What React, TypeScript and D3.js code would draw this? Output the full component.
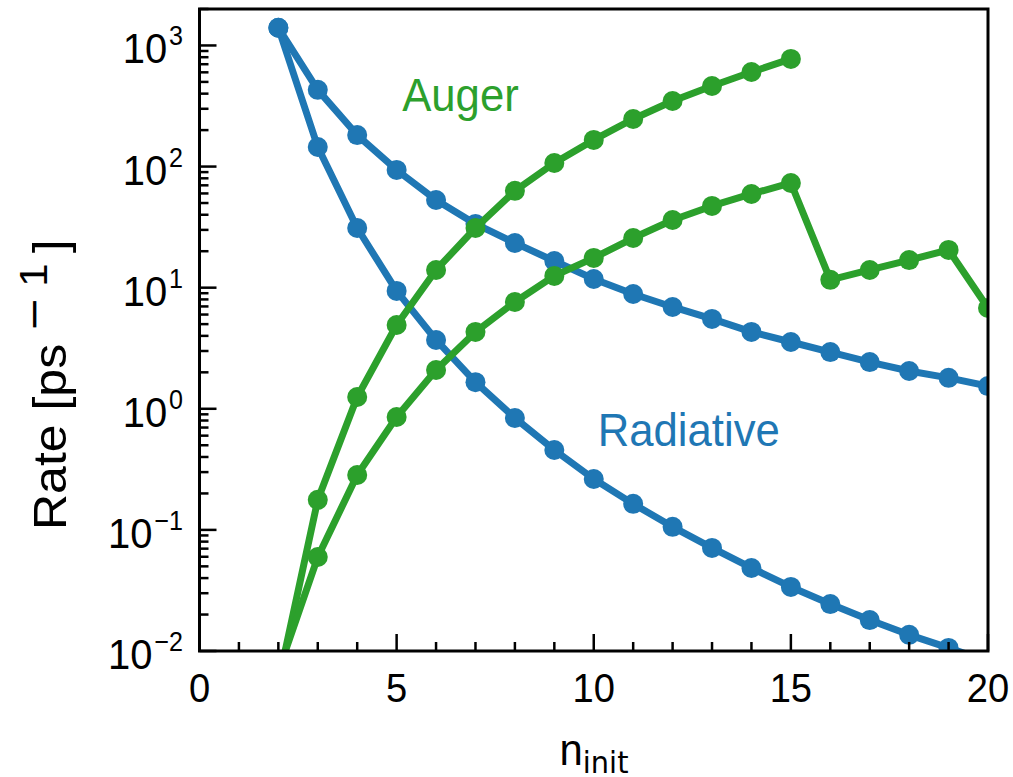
import React from "react";
import * as d3 from "d3";

const nInit = [2, 3, 4, 5, 6, 7, 8, 9, 10, 11, 12, 13, 14, 15, 16, 17, 18, 19, 20];
const radiativeA = [1400, 430, 182, 93.8, 53, 33.6, 23.4, 16.6, 11.8, 8.87, 6.93, 5.52, 4.31, 3.56, 2.94, 2.43, 2.05, 1.8, 1.54];
const radiativeB = [1400, 145, 31.1, 9.4, 3.7, 1.66, 0.84, 0.457, 0.263, 0.164, 0.106, 0.071, 0.0485, 0.0338, 0.0244, 0.018, 0.0136, 0.0106, 0.0082];
const augerX = [2, 3, 4, 5, 6, 7, 8, 9, 10, 11, 12, 13, 14, 15];
const augerA = [0.0055, 0.177, 1.25, 4.92, 14.0, 31.1, 63, 107, 166, 247, 348, 463, 604, 774];
const augerB = [0.0068, 0.0597, 0.284, 0.855, 2.09, 4.31, 7.62, 12.5, 17.6, 25.7, 36.2, 47.3, 59.4, 73.2, 11.6, 14.0, 16.9, 20.5, 6.8];

const xMajor = [0, 5, 10, 15, 20];
const xMinor = d3.range(0, 21);
const yExponents = [-2, -1, 0, 1, 2, 3];

const BLUE = "#1f77b4";
const GREEN = "#2ca02c";
const FONT = "'Liberation Sans', Arial, sans-serif";
const SQ = 0.93;

export default function App() {
  const W = 1013, H = 777;
  const L = 199.5, R = 988, T = 9, B = 651;
  const x = d3.scaleLinear().domain([0, 20]).range([L, R]);
  const y = d3.scaleLog().domain([0.01, 2000]).range([B, T]);

  const line = d3.line<[number, number]>().x(d => x(d[0])).y(d => y(d[1]));
  const series = [
    { xs: nInit, ys: radiativeA, c: BLUE },
    { xs: nInit, ys: radiativeB, c: BLUE },
    { xs: augerX, ys: augerA, c: GREEN },
    { xs: nInit, ys: augerB, c: GREEN },
  ];

  const yMinor: number[] = [];
  for (let e = -2; e < 4; e++) for (let m = 2; m <= 9; m++) {
    const v = m * Math.pow(10, e);
    if (v <= 2000) yMinor.push(v);
  }

  const sup = (e: number) => (e < 0 ? "\u2212" + Math.abs(e) : String(e));

  return (
    <svg width={W} height={H} style={{ position: "absolute", left: 0, top: 0, background: "#fff" }}>
      <defs>
        <clipPath id="plot">
          <rect x={L} y={T} width={R - L} height={B - T} />
        </clipPath>
      </defs>
      <g clipPath="url(#plot)">
        {series.map((s, i) => {
          const pts: [number, number][] = s.xs.map((v, j) => [v, s.ys[j]]);
          return (
            <g key={i}>
              <path d={line(pts) || ""} fill="none" stroke={s.c} strokeWidth={7} strokeLinejoin="round" />
              {pts.map((p, j) => (
                <circle key={j} cx={x(p[0])} cy={y(p[1])} r={10} fill={s.c} />
              ))}
            </g>
          );
        })}
      </g>
      {xMinor.map(v => (
        <line key={"xm" + v} x1={x(v)} x2={x(v)} y1={B} y2={B - (xMajor.includes(v) ? 17 : 9)} stroke="#000" strokeWidth={2.5} />
      ))}
      {yMinor.map((v, i) => (
        <line key={"ym" + i} x1={L} x2={L + 9} y1={y(v)} y2={y(v)} stroke="#000" strokeWidth={2.5} />
      ))}
      {yExponents.map(e => (
        <line key={"yM" + e} x1={L} x2={L + 17} y1={y(Math.pow(10, e))} y2={y(Math.pow(10, e))} stroke="#000" strokeWidth={2.5} />
      ))}
      <rect x={L} y={T} width={R - L} height={B - T} fill="none" stroke="#000" strokeWidth={3} />
      {xMajor.map(v => (
        <g key={"xl" + v} transform={`translate(${x(v)},702) scale(${SQ},1)`}>
          <text textAnchor="middle" fontFamily={FONT} fontSize={41} fill="#000">{v}</text>
        </g>
      ))}
      {yExponents.map(e => (
        <g key={"yl" + e} transform={`translate(183,${y(Math.pow(10, e))}) scale(${SQ},1)`}>
          <text textAnchor="end" fontFamily={FONT} fontSize={43} fill="#000" y={18}>
            10<tspan fontSize={27} dy={-18} dx={2}>{sup(e)}</tspan>
          </text>
        </g>
      ))}
      <g transform={`translate(594,765) scale(${SQ},1)`}>
        <text textAnchor="middle" fontFamily={FONT} fontSize={45} fill="#000">
          n<tspan fontSize={31} dy={8} fontFamily="'DejaVu Sans', sans-serif">init</tspan>
        </text>
      </g>
      <g transform={`translate(66,530) scale(${SQ},1) rotate(-90)`}>
        <text textAnchor="start" fontFamily={FONT} fontSize={50} fill="#000">
          Rate [ps<tspan fontSize={42} dy={-20} dx={12} fontFamily="'DejaVu Sans', sans-serif">{"\u2212"}</tspan><tspan fontSize={42} dx={10}>1</tspan><tspan dy={20} dx={10}>]</tspan>
        </text>
      </g>
      <g transform={`translate(${x(5.14)},${y(288)}) scale(${SQ},1)`}>
        <text fontFamily={FONT} fontSize={47} fill={GREEN}>Auger</text>
      </g>
      <g transform={`translate(${x(10.1)},${y(0.49)}) scale(${SQ},1)`}>
        <text fontFamily={FONT} fontSize={47} fill={BLUE}>Radiative</text>
      </g>
    </svg>
  );
}
